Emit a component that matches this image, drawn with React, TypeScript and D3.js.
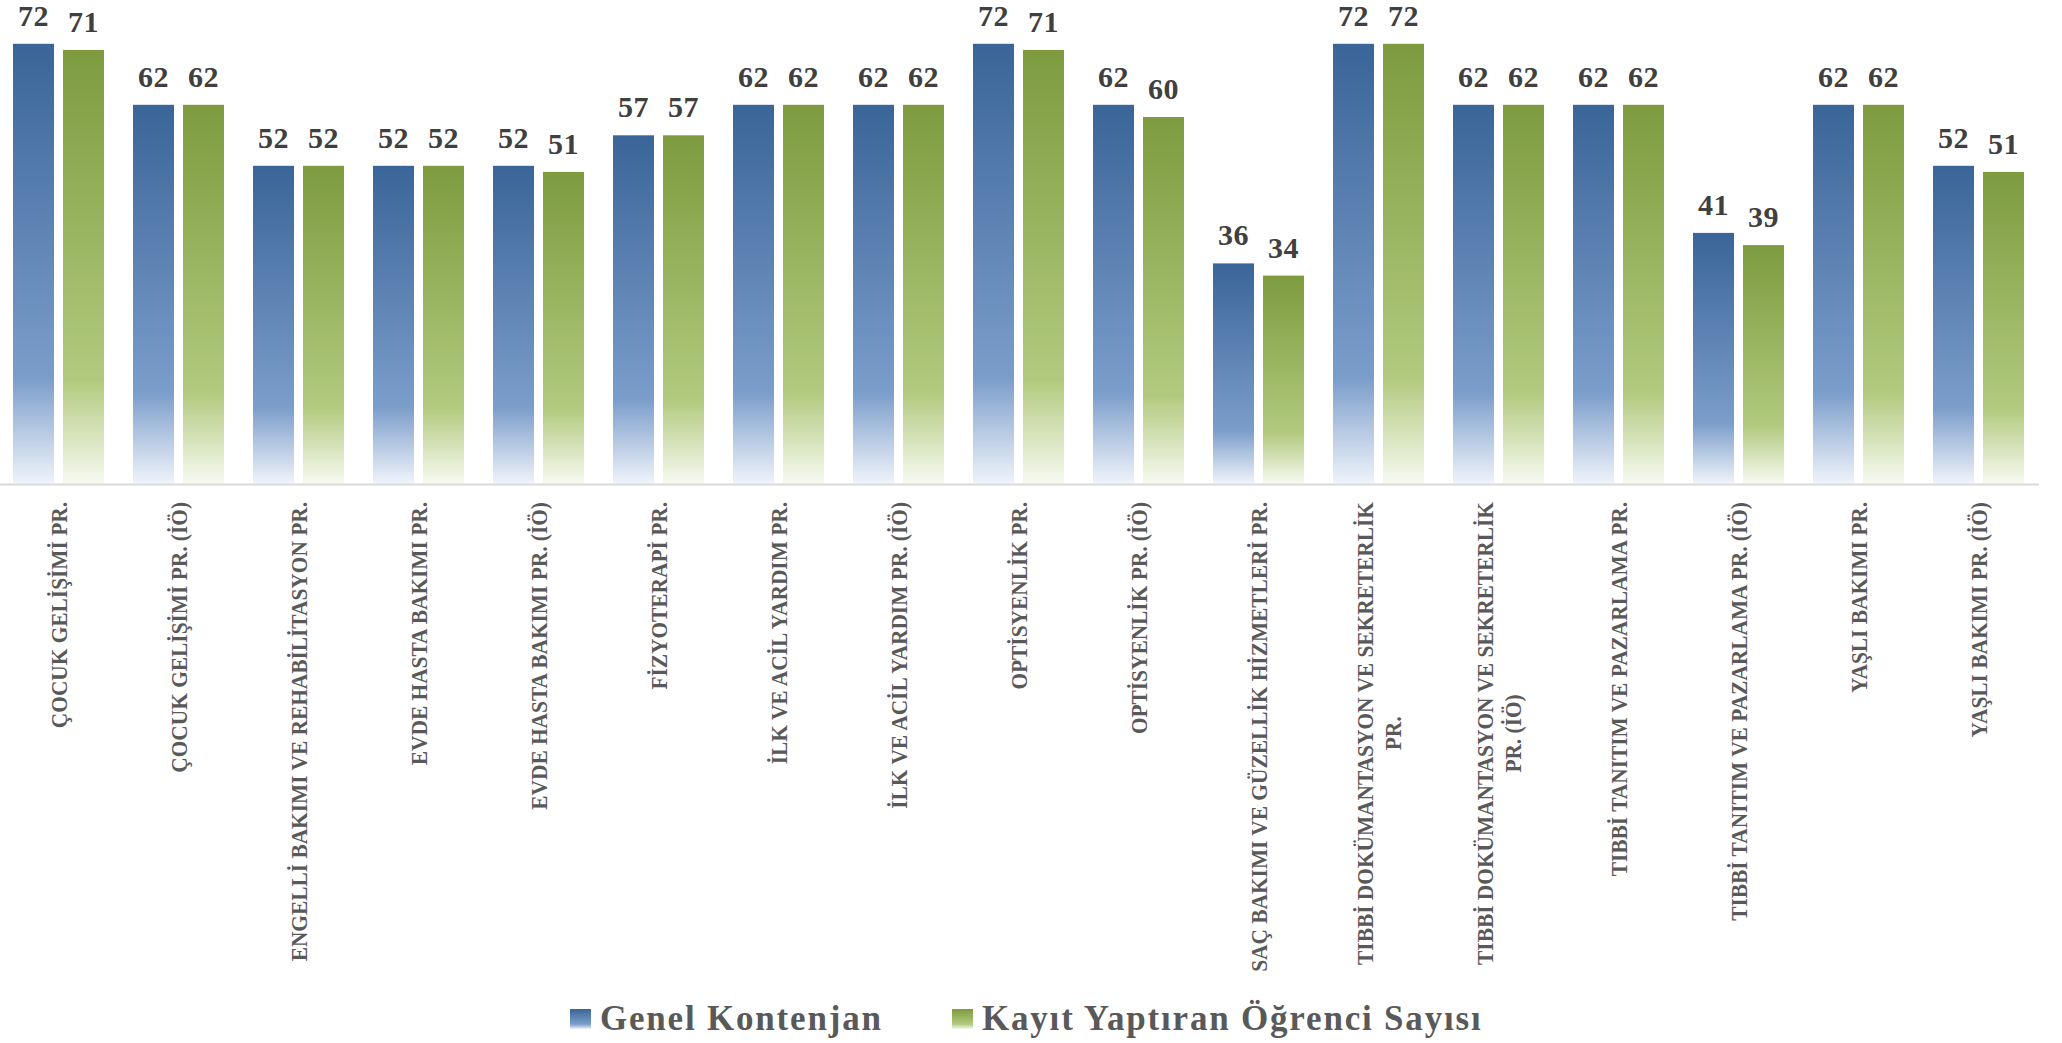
import React, { useEffect, useRef } from 'react';
import * as d3 from 'd3';

// categories ("\n" marks where the label wraps)
const categories = [
  'ÇOCUK GELİŞİMİ PR.',
  'ÇOCUK GELİŞİMİ PR. (İÖ)',
  'ENGELLİ BAKIMI VE REHABİLİTASYON PR.',
  'EVDE HASTA BAKIMI PR.',
  'EVDE HASTA BAKIMI PR. (İÖ)',
  'FİZYOTERAPİ PR.',
  'İLK VE ACİL YARDIM PR.',
  'İLK VE ACİL YARDIM PR. (İÖ)',
  'OPTİSYENLİK PR.',
  'OPTİSYENLİK PR. (İÖ)',
  'SAÇ BAKIMI VE GÜZELLİK HİZMETLERİ PR.',
  'TIBBİ DOKÜMANTASYON VE SEKRETERLİK\nPR.',
  'TIBBİ DOKÜMANTASYON VE SEKRETERLİK\nPR. (İÖ)',
  'TIBBİ TANITIM VE PAZARLAMA PR.',
  'TIBBİ TANITIM VE PAZARLAMA PR. (İÖ)',
  'YAŞLI BAKIMI PR.',
  'YAŞLI BAKIMI PR. (İÖ)',
];

const genelKontenjan = [72, 62, 52, 52, 52, 57, 62, 62, 72, 62, 36, 72, 62, 62, 41, 62, 52];
const kayitYaptiran = [71, 62, 52, 52, 51, 57, 62, 62, 71, 60, 34, 72, 62, 62, 39, 62, 51];

const seriesNames = ['Genel Kontenjan', 'Kayıt Yaptıran Öğrenci Sayısı'];
const seriesKeys = ['genel', 'kayit'];

const W = 2062;
const H = 1043;

const App = () => {
  const ref = useRef(null);

  useEffect(() => {
    const svg = d3.select(ref.current);
    svg.selectAll('*').remove();

    const data = categories.map((c, i) => ({ cat: c, genel: genelKontenjan[i], kayit: kayitYaptiran[i] }));

    const baseY = 483;
    const x0 = d3.scaleBand().domain(categories).range([-1.5, 2038.5]).padding(0);
    const x1 = d3.scaleBand().domain(seriesKeys).range([0, x0.bandwidth()]).paddingInner(0.18).paddingOuter(0.29);
    const y = d3.scaleLinear().domain([0, 80]).range([baseY, baseY - 80 * 6.1]);

    // gradients
    const defs = svg.append('defs');
    const grads = [
      { id: 'g-genel', stops: [['0%', '#3a6598'], ['76%', '#7b9dca'], ['100%', '#eef3fa']] },
      { id: 'g-kayit', stops: [['0%', '#7d9b3e'], ['76%', '#b1ca7e'], ['100%', '#f7f9f0']] },
    ];
    grads.forEach(g => {
      const lg = defs.append('linearGradient').attr('id', g.id).attr('x1', 0).attr('y1', 0).attr('x2', 0).attr('y2', 1);
      g.stops.forEach(s => lg.append('stop').attr('offset', s[0]).attr('stop-color', s[1]));
    });

    // bars
    const groups = svg.append('g').selectAll('g')
      .data(data)
      .enter().append('g')
      .attr('transform', d => `translate(${x0(d.cat)},0)`);

    groups.selectAll('rect')
      .data(d => seriesKeys.map(k => ({ key: k, value: d[k] })))
      .enter().append('rect')
      .attr('x', d => x1(d.key))
      .attr('y', d => y(d.value))
      .attr('width', x1.bandwidth())
      .attr('height', d => baseY - y(d.value))
      .attr('fill', d => `url(#g-${d.key})`);

    groups.selectAll('text.val')
      .data(d => seriesKeys.map(k => ({ key: k, value: d[k] })))
      .enter().append('text')
      .attr('class', 'val')
      .attr('x', d => x1(d.key) + x1.bandwidth() / 2)
      .attr('y', d => y(d.value) - 18)
      .attr('text-anchor', 'middle')
      .attr('font-family', '"Liberation Serif", serif')
      .attr('font-weight', 'bold')
      .attr('font-size', 30)
      .attr('letter-spacing', 0.5)
      .attr('fill', '#404040')
      .text(d => d.value);

    // axis line
    svg.append('line')
      .attr('x1', 0).attr('x2', 2039)
      .attr('y1', baseY + 1.5).attr('y2', baseY + 1.5)
      .attr('stroke', '#d9d9d9').attr('stroke-width', 2);

    // category labels (rotated)
    const labelTop = 502;
    const lineH = 28;
    categories.forEach(c => {
      const lines = c.split('\n');
      const cx = x0(c) + x0.bandwidth() / 2;
      const g = svg.append('g').attr('transform', `translate(${cx},${labelTop}) rotate(-90) scale(0.93,1)`);
      const texts = lines.map((ln, j) => g.append('text')
        .attr('font-family', '"Liberation Serif", serif')
        .attr('font-weight', 'bold')
        .attr('font-size', 23)
        .attr('fill', '#595959')
        .attr('y', (j - (lines.length - 1) / 2) * lineH)
        .attr('dy', '0.35em')
        .text(ln));
      const lens = texts.map(t => (t.node() as SVGTextElement).getComputedTextLength());
      const maxLen = d3.max(lens) || 0;
      texts.forEach(t => t.attr('text-anchor', 'middle').attr('x', -maxLen / 2));
    });

    // legend
    const legend = svg.append('g');
    const legendX = [570, 952];
    seriesKeys.forEach((k, i) => {
      legend.append('rect')
        .attr('x', legendX[i]).attr('y', 1009)
        .attr('width', 21).attr('height', 20)
        .attr('fill', `url(#g-${k})`);
      legend.append('text')
        .attr('x', legendX[i] + 30).attr('y', 1030)
        .attr('font-family', '"Liberation Serif", serif')
        .attr('font-weight', 'bold')
        .attr('font-size', 35)
        .attr('letter-spacing', 1.8)
        .attr('fill', '#595959')
        .text(seriesNames[i]);
    });
  }, []);

  return (
    <svg ref={ref} width={W} height={H} style={{ position: 'absolute', left: 0, top: 0, background: '#fff' }} />
  );
};

export default App;
